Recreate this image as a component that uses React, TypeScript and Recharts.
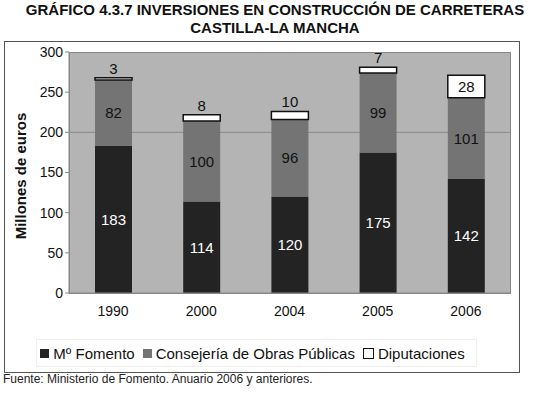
import { BarChart, Bar, XAxis, YAxis, CartesianGrid, LabelList } from 'recharts';

const years = ['1990', '2000', '2004', '2005', '2006'];
const fomento = [183, 114, 120, 175, 142];
const consejeria = [82, 100, 96, 99, 101];
const diputaciones = [3, 8, 10, 7, 28];
const yTicks = [0, 50, 100, 150, 200, 250, 300];

const data = years.map((year, i) => ({
  year,
  fomento: fomento[i],
  consejeria: consejeria[i],
  diputaciones: diputaciones[i],
}));

const FONT = '"Liberation Sans", Arial, sans-serif';

// small values go above the white box, big ones inside
function DipLabel(props: any) {
  const { x, y, width, height, value } = props;
  const inside = height > 18;
  return (
    <text
      x={x + width / 2}
      y={inside ? y + height / 2 + 5 : y - 4}
      textAnchor="middle"
      fontSize={15}
      fontFamily={FONT}
      fill="#111"
    >
      {value}
    </text>
  );
}

function LegendItem({ color, label, border }: { color: string; label: string; border?: boolean }) {
  return (
    <span style={{ display: 'inline-flex', alignItems: 'center', marginRight: 8 }}>
      <span
        style={{
          display: 'inline-block',
          width: 9,
          height: 9,
          background: color,
          border: border ? '1px solid #111' : 'none',
          marginRight: 4,
        }}
      />
      {label}
    </span>
  );
}

export default function App() {
  return (
    <div
      style={{
        position: 'absolute',
        left: 0,
        top: 0,
        width: 550,
        height: 393,
        fontFamily: FONT,
        background: '#fff',
      }}
    >
      <div
        style={{
          position: 'absolute',
          top: 1,
          left: 0,
          width: 550,
          textAlign: 'center',
          fontWeight: 'bold',
          fontSize: 15,
          lineHeight: '18px',
          color: '#111',
        }}
      >
        GRÁFICO 4.3.7 INVERSIONES EN CONSTRUCCIÓN DE CARRETERAS
        <br />
        CASTILLA-LA MANCHA
      </div>
      <div
        style={{
          position: 'absolute',
          left: 4,
          top: 41,
          width: 514,
          height: 330,
          border: '1px solid #555',
        }}
      />
      <div style={{ position: 'absolute', left: 0, top: 0 }}>
        <BarChart width={550} height={393} data={data} margin={{ top: 52, right: 40, bottom: 70, left: 29 }}>
          <CartesianGrid fill="#b4b4b4" stroke="#888" vertical={false} horizontalValues={[200]} />
          <XAxis
            dataKey="year"
            tickLine={false}
            axisLine={{ stroke: '#888' }}
            tick={{ fill: '#111', fontSize: 14, fontFamily: FONT }}
            tickMargin={7}
          />
          <YAxis
            width={40}
            domain={[0, 300]}
            ticks={yTicks}
            interval={0}
            axisLine={{ stroke: '#888' }}
            tickLine={{ stroke: '#888' }}
            tickSize={4}
            tick={{ fill: '#111', fontSize: 14, fontFamily: FONT }}
          />
          <Bar dataKey="fomento" stackId="a" fill="#232323" barSize={37} isAnimationActive={false}>
            <LabelList dataKey="fomento" position="center" fill="#fff" fontSize={15} fontFamily={FONT} />
          </Bar>
          <Bar dataKey="consejeria" stackId="a" fill="#747474" barSize={37} isAnimationActive={false}>
            <LabelList dataKey="consejeria" position="center" fill="#111" fontSize={15} fontFamily={FONT} />
          </Bar>
          <Bar
            dataKey="diputaciones"
            stackId="a"
            fill="#fff"
            stroke="#111"
            strokeWidth={1.5}
            barSize={37}
            isAnimationActive={false}
          >
            <LabelList dataKey="diputaciones" content={DipLabel} />
          </Bar>
        </BarChart>
      </div>
      <div
        style={{
          position: 'absolute',
          left: 69,
          top: 52,
          width: 440,
          height: 240,
          border: '1px solid #888',
          pointerEvents: 'none',
        }}
      />
      <div
        style={{
          position: 'absolute',
          left: 20,
          top: 176,
          transform: 'translate(-50%, -50%) rotate(-90deg)',
          fontWeight: 'bold',
          fontSize: 15,
          whiteSpace: 'nowrap',
          color: '#111',
        }}
      >
        Millones de euros
      </div>
      <div
        style={{
          position: 'absolute',
          left: 36,
          top: 339,
          width: 439,
          height: 26,
          border: '1px solid #eee',
          display: 'flex',
          alignItems: 'center',
          justifyContent: 'center',
          fontSize: 15,
          color: '#111',
        }}
      >
        <LegendItem color="#232323" label="Mº Fomento" />
        <LegendItem color="#747474" label="Consejería de Obras Públicas" />
        <LegendItem color="#fff" label="Diputaciones" border />
      </div>
      <div style={{ position: 'absolute', left: 3, top: 372, fontSize: 12, color: '#222' }}>
        Fuente: Ministerio de Fomento. Anuario 2006 y anteriores.
      </div>
    </div>
  );
}
